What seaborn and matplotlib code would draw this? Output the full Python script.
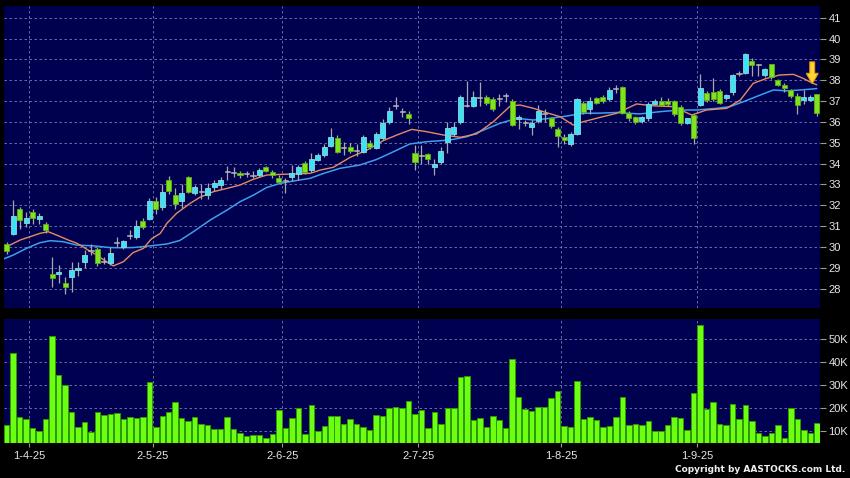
import matplotlib
matplotlib.use("Agg")
import matplotlib.pyplot as plt
import seaborn as sns
import numpy as np
from matplotlib.patches import FancyArrow

# ---------------- data ----------------
opens = [30.12, 30.60, 31.80, 31.13, 31.69, 31.33, 31.10, 28.69, 28.69, 28.26,
         28.57, 28.88, 29.26, 29.85, 29.89, 29.30, 29.22, 30.20, 29.98, 30.53,
         30.46, 31.24, 31.33, 32.20, 31.90, 33.20, 32.50, 32.22, 33.34, 32.60,
         32.65, 32.49, 32.86, 32.97, 33.60, 33.56, 33.56, 33.53, 33.42, 33.43,
         33.82, 33.61, 33.29, 33.20, 33.34, 33.50, 34.01, 33.69, 34.17, 34.40,
         34.84, 35.21, 34.75, 34.78, 34.62, 34.57, 35.00, 34.73, 35.21, 36.00,
         36.80, 36.49, 36.38, 34.52, 34.38, 34.44, 33.82, 34.09, 35.02, 35.42,
         36.00, 36.77, 36.77, 37.15, 37.20, 37.10, 37.10, 37.25, 37.02, 36.12,
         35.96, 35.77, 36.06, 36.40, 36.20, 35.64, 35.29, 34.94, 35.42, 36.92,
         36.60, 37.13, 37.18, 37.08, 37.61, 37.66, 36.44, 36.22, 36.03, 36.17,
         36.86, 37.02, 37.02, 37.00, 36.70, 35.96, 36.33, 36.81, 37.37, 37.45,
         37.50, 37.13, 37.45, 38.30, 38.36, 38.93, 38.76, 38.25, 38.78, 38.00,
         37.77, 37.53, 37.24, 37.05, 37.05, 37.34]
highs = [30.25, 32.25, 31.93, 31.70, 31.80, 31.65, 31.20, 29.50, 29.13, 28.57,
         29.30, 29.30, 29.85, 30.15, 30.00, 29.50, 30.00, 30.50, 30.35, 30.80,
         31.30, 31.40, 32.35, 32.40, 33.00, 33.40, 32.85, 33.00, 33.40, 32.95,
         33.00, 33.05, 33.20, 33.35, 33.90, 33.82, 33.65, 33.65, 33.62, 33.78,
         33.90, 33.70, 33.45, 33.30, 33.95, 33.95, 34.10, 34.50, 34.50, 34.95,
         35.70, 35.35, 35.05, 35.00, 34.95, 35.35, 35.15, 35.50, 36.15, 36.70,
         37.20, 36.65, 36.50, 34.90, 34.90, 34.50, 34.20, 34.80, 36.00, 36.00,
         37.30, 37.97, 37.50, 37.90, 37.30, 37.20, 37.35, 37.40, 37.10, 36.35,
         36.10, 36.10, 36.80, 36.60, 36.25, 35.75, 35.40, 35.50, 37.15, 37.00,
         37.20, 37.20, 37.30, 37.65, 37.75, 37.70, 36.50, 36.30, 36.30, 36.95,
         37.10, 37.20, 37.15, 37.05, 36.80, 36.20, 36.40, 38.30, 37.50, 38.10,
         37.60, 37.35, 38.30, 38.45, 39.30, 39.05, 38.80, 38.60, 38.80, 38.05,
         37.85, 37.60, 37.40, 37.55, 37.30, 37.35]
lows = [29.66, 30.55, 30.85, 30.95, 31.10, 31.10, 30.65, 28.10, 28.26, 27.73,
        27.85, 28.60, 29.00, 29.60, 29.10, 29.20, 29.15, 30.00, 29.90, 30.40,
        30.40, 30.85, 31.30, 31.60, 31.75, 32.55, 31.80, 31.85, 32.60, 32.50,
        32.30, 32.30, 32.70, 32.80, 33.20, 33.37, 33.30, 33.35, 33.30, 33.35,
        33.60, 33.30, 33.10, 32.57, 33.15, 33.20, 33.50, 33.60, 34.10, 34.30,
        34.80, 34.50, 34.40, 34.50, 34.35, 34.50, 34.70, 34.70, 35.15, 35.90,
        36.60, 36.25, 35.90, 33.70, 34.00, 34.00, 33.43, 34.00, 34.50, 35.30,
        35.90, 36.70, 36.70, 36.75, 36.80, 36.50, 36.75, 36.95, 35.80, 35.65,
        35.80, 35.35, 35.95, 36.00, 35.70, 34.80, 34.95, 34.85, 35.35, 36.40,
        36.40, 36.85, 36.90, 37.00, 37.40, 36.40, 36.05, 35.90, 35.95, 36.05,
        36.80, 36.75, 36.75, 36.30, 35.85, 35.90, 34.94, 36.75, 36.95, 37.00,
        36.85, 37.05, 37.30, 38.20, 38.30, 38.20, 38.20, 38.15, 38.05, 37.70,
        37.45, 37.15, 36.40, 36.85, 37.00, 36.28]
closes = [29.80, 31.48, 31.30, 31.40, 31.40, 31.48, 30.80, 28.53, 28.78, 28.10,
          28.90, 29.00, 29.60, 29.85, 29.22, 29.30, 29.70, 30.20, 30.29, 30.53,
          31.00, 30.94, 32.22, 31.80, 32.65, 32.70, 32.05, 32.60, 32.65, 32.86,
          32.65, 32.81, 33.08, 33.20, 33.60, 33.56, 33.45, 33.53, 33.42, 33.69,
          33.66, 33.45, 33.13, 33.20, 33.56, 33.85, 33.61, 34.20, 34.41, 34.78,
          35.26, 34.57, 34.75, 34.62, 34.62, 35.26, 34.78, 35.40, 35.93, 36.53,
          36.80, 36.49, 36.17, 34.09, 34.38, 34.23, 34.00, 34.60, 35.69, 35.74,
          37.18, 36.77, 37.18, 37.15, 36.89, 36.60, 37.10, 37.25, 35.85, 36.22,
          35.96, 35.93, 36.53, 36.40, 35.80, 35.30, 35.14, 35.42, 37.08, 36.49,
          37.02, 36.89, 37.01, 37.53, 37.61, 36.44, 36.17, 36.00, 36.22, 36.86,
          37.02, 36.81, 36.85, 36.40, 35.93, 36.17, 35.21, 37.61, 37.05, 37.10,
          36.89, 37.29, 38.25, 38.30, 39.25, 38.73, 38.76, 38.52, 38.17, 37.77,
          37.61, 37.24, 36.81, 37.18, 37.20, 36.44]
volumes_k = [12.8, 43.9, 16.4, 15.4, 11.6, 10.1, 15.2, 51.3, 34.3, 30.3,
             18.4, 11.7, 14.2, 9.7, 18.4, 17.1, 17.5, 18.0, 15.4, 16.1,
             15.8, 16.2, 31.2, 11.7, 16.7, 18.3, 22.9, 15.9, 14.5, 16.2,
             13.2, 12.9, 11.2, 10.9, 16.2, 11.0, 9.4, 8.0, 8.4, 8.4,
             7.2, 8.8, 19.4, 11.4, 15.9, 20.0, 8.8, 21.3, 10.3, 12.5,
             16.8, 16.8, 13.2, 15.4, 13.2, 11.7, 10.6, 17.1, 16.7, 20.1,
             20.7, 20.0, 23.2, 17.5, 19.4, 11.3, 18.4, 13.2, 20.3, 20.3,
             33.8, 34.1, 14.9, 15.8, 12.0, 16.7, 14.9, 11.4, 41.4, 24.8,
             19.7, 19.0, 20.6, 20.6, 24.5, 27.4, 12.3, 11.7, 32.0, 15.2,
             16.1, 14.9, 12.0, 12.2, 16.4, 24.8, 12.8, 13.2, 12.8, 14.5,
             10.3, 10.3, 12.8, 16.2, 15.7, 10.6, 26.5, 56.2, 19.7, 22.9,
             13.0, 12.6, 21.9, 15.4, 21.6, 14.5, 9.4, 8.0, 9.3, 12.6,
             7.1, 19.9, 15.2, 10.6, 9.4, 13.5]

ma_fast_x = [-0.5, 0.5, 2.05, 3.6, 5.1, 6.4, 8.0, 9.5, 10.8, 12.35, 13.9, 15.4,
             16.45, 18.0, 19.5, 21.1, 22.3, 23.7, 24.7, 26.2, 28.3, 29.8, 31.9,
             34.0, 36.0, 38.0, 40.1, 42.2, 44.2, 46.8, 48.4, 50.4, 53.0, 55.6,
             58.1, 60.2, 62.5, 64.8, 67.4, 70.0, 72.5, 75.1, 77.7, 79.2, 81.3,
             83.3, 85.4, 87.4, 89.0, 91.6, 94.1, 97.2, 99.8, 102.9, 105.7, 108.0,
             111.1, 113.2, 115.2, 117.3, 119.3, 121.4, 122.9, 124.4, 125.0]
ma_fast_y = [29.93, 30.09, 30.33, 30.49, 30.65, 30.73, 30.53, 30.33, 30.18, 29.89,
             29.61, 29.29, 29.09, 29.29, 29.73, 29.93, 30.38, 30.65, 31.13, 31.61,
             32.09, 32.38, 32.65, 32.81, 32.97, 33.24, 33.45, 33.48, 33.50, 33.53,
             33.69, 33.82, 34.30, 34.65, 35.10, 35.37, 35.64, 35.53, 35.37, 35.26,
             35.42, 36.01, 36.76, 36.81, 36.65, 36.44, 36.25, 35.85, 36.01, 36.22,
             36.41, 36.86, 36.77, 36.73, 36.33, 36.57, 36.65, 37.05, 37.85, 38.09,
             38.25, 38.28, 38.09, 37.85, 37.78]
ma_slow_x = [-0.5, 1.0, 3.1, 5.1, 6.7, 8.7, 10.8, 13.4, 15.9, 17.5, 19.5, 22.1,
             24.7, 26.7, 28.8, 31.4, 34.0, 36.0, 38.1, 40.1, 42.2, 44.2, 46.8,
             48.9, 51.4, 54.5, 57.1, 59.7, 62.2, 64.8, 68.4, 71.0, 73.6, 76.1,
             78.7, 81.3, 83.8, 86.4, 89.0, 91.6, 94.1, 97.7, 100.8, 103.9, 106.5,
             109.6, 111.6, 113.7, 116.3, 118.3, 120.4, 122.4, 124.4, 125.0]
ma_slow_y = [29.42, 29.61, 29.94, 30.20, 30.30, 30.25, 30.09, 30.05, 29.97, 29.96,
             29.97, 30.05, 30.14, 30.31, 30.73, 31.29, 31.77, 32.17, 32.49, 32.85,
             33.05, 33.16, 33.29, 33.53, 33.77, 33.93, 34.20, 34.57, 34.94, 35.05,
             35.13, 35.29, 35.61, 35.93, 36.17, 36.09, 36.17, 36.28, 36.41, 36.42,
             36.45, 36.38, 36.49, 36.57, 36.57, 36.65, 36.73, 36.97, 37.29, 37.53,
             37.49, 37.53, 37.58, 37.60]

date_tick_pos = [3.5, 22.5, 42.5, 63.5, 85.5, 106.5]
date_tick_labels = ["1-4-25", "2-5-25", "2-6-25", "2-7-25", "1-8-25", "1-9-25"]
price_ticks = [28, 29, 30, 31, 32, 33, 34, 35, 36, 37, 38, 39, 40, 41]
volume_ticks_k = [10, 20, 30, 40, 50]
copyright_text = "Copyright by AASTOCKS.com Ltd."
arrow_idx = 124.3

# ---------------- style ----------------
sns.set_theme(style="dark")
plt.rcParams['font.family'] = ['Liberation Sans', 'DejaVu Sans']

BG = "#000050"
GRID = "#7A7AB0"
UP = "#3EE2F2"
UP_EDGE = "#8FD6E0"
DOWN = "#7FE41E"
DOWN_EDGE = "#5DB012"
WICK = "#A8A8A8"
DOJI = "#B8B8B8"
TXT = "#E6E6E6"

W, H = 850, 478
fig = plt.figure(figsize=(W / 100, H / 100), dpi=100, facecolor="black")
L, R = 3.5, 820
ax = fig.add_axes([L / W, 1 - 308 / H, (R - L) / W, (308 - 6) / H])
axv = fig.add_axes([L / W, 1 - 443 / H, (R - L) / W, (443 - 319) / H])

n = len(opens)
idx = np.arange(n)
o = np.array(opens); c = np.array(closes)
hi = np.array(highs); lo = np.array(lows)

for a in (ax, axv):
    a.set_facecolor(BG)
    for s in a.spines.values():
        s.set_visible(False)

# moving averages
sns.lineplot(x=ma_slow_x, y=ma_slow_y, ax=ax, color="#3E9FEA", lw=1.1,
             sort=False, zorder=2)
sns.lineplot(x=ma_fast_x, y=ma_fast_y, ax=ax, color="#E88A62", lw=1.0,
             sort=False, zorder=2.2)

# candles
ax.vlines(idx, lo, hi, color=WICK, lw=0.9, zorder=3)
up = c > o
dn = c < o
eq = c == o
bw = 0.78
ax.bar(idx[up], (c - o)[up], bottom=o[up], width=bw, color=UP,
       edgecolor=UP_EDGE, linewidth=0.6, zorder=4)
ax.bar(idx[dn], (o - c)[dn], bottom=c[dn], width=bw, color=DOWN,
       edgecolor=DOWN_EDGE, linewidth=0.6, zorder=4)
ax.bar(idx[eq], np.full(eq.sum(), 0.05), bottom=c[eq] - 0.025, width=bw,
       color=DOJI, edgecolor=DOJI, linewidth=0.4, zorder=4)

# arrow
ax.add_patch(FancyArrow(arrow_idx, 38.88, 0, -1.05, width=0.75, head_width=1.85,
                        head_length=0.5, length_includes_head=True,
                        facecolor="#FFD52E", edgecolor="#E09A10", lw=0.8,
                        zorder=6))

ax.set_xlim(-0.5, 125.5)
ax.set_ylim(27.07, 41.56)
ax.set_yticks(price_ticks)
ax.set_yticklabels([str(t) for t in price_ticks])
ax.yaxis.tick_right()
ax.set_xticks(date_tick_pos)
ax.set_xticklabels([])
ax.tick_params(axis="x", length=0)
ax.tick_params(axis="y", length=4, width=0.8, color="#9A9A9A", labelcolor=TXT,
               labelsize=8, pad=2, right=True, left=False)
ax.grid(True, color=GRID, linestyle=(0, (3, 3)), linewidth=0.6)
ax.set_axisbelow(True)
ax.set_xlabel(""); ax.set_ylabel("")

# volume
sns.barplot(x=idx, y=volumes_k, ax=axv, native_scale=True, width=0.85,
            color="#6CFF12", saturation=1, edgecolor="#2F9A00", linewidth=0.7,
            errorbar=None, zorder=3)
axv.set_xlim(-0.5, 125.5)
axv.set_ylim(4.9, 58.8)
axv.set_yticks(volume_ticks_k)
axv.set_yticklabels([f"{t}K" for t in volume_ticks_k])
axv.yaxis.tick_right()
axv.tick_params(axis="y", length=4, width=0.8, color="#9A9A9A", labelcolor=TXT,
                labelsize=8, pad=2, right=True, left=False)
axv.set_xticks(date_tick_pos)
axv.set_xticklabels(date_tick_labels)
axv.tick_params(axis="x", length=3, width=0.8, color="#9A9A9A", labelcolor=TXT,
                labelsize=8, pad=3, bottom=True)
axv.grid(True, color=GRID, linestyle=(0, (3, 3)), linewidth=0.6)
axv.set_axisbelow(True)
axv.set_xlabel(""); axv.set_ylabel("")

fig.text(845 / W, 1 - 470 / H, copyright_text, ha="right", va="center",
         color="#F0F0F0", fontsize=6.5, fontweight="bold",
         family=["DejaVu Sans"])

fig.savefig("out.png", dpi=100, facecolor="black")
